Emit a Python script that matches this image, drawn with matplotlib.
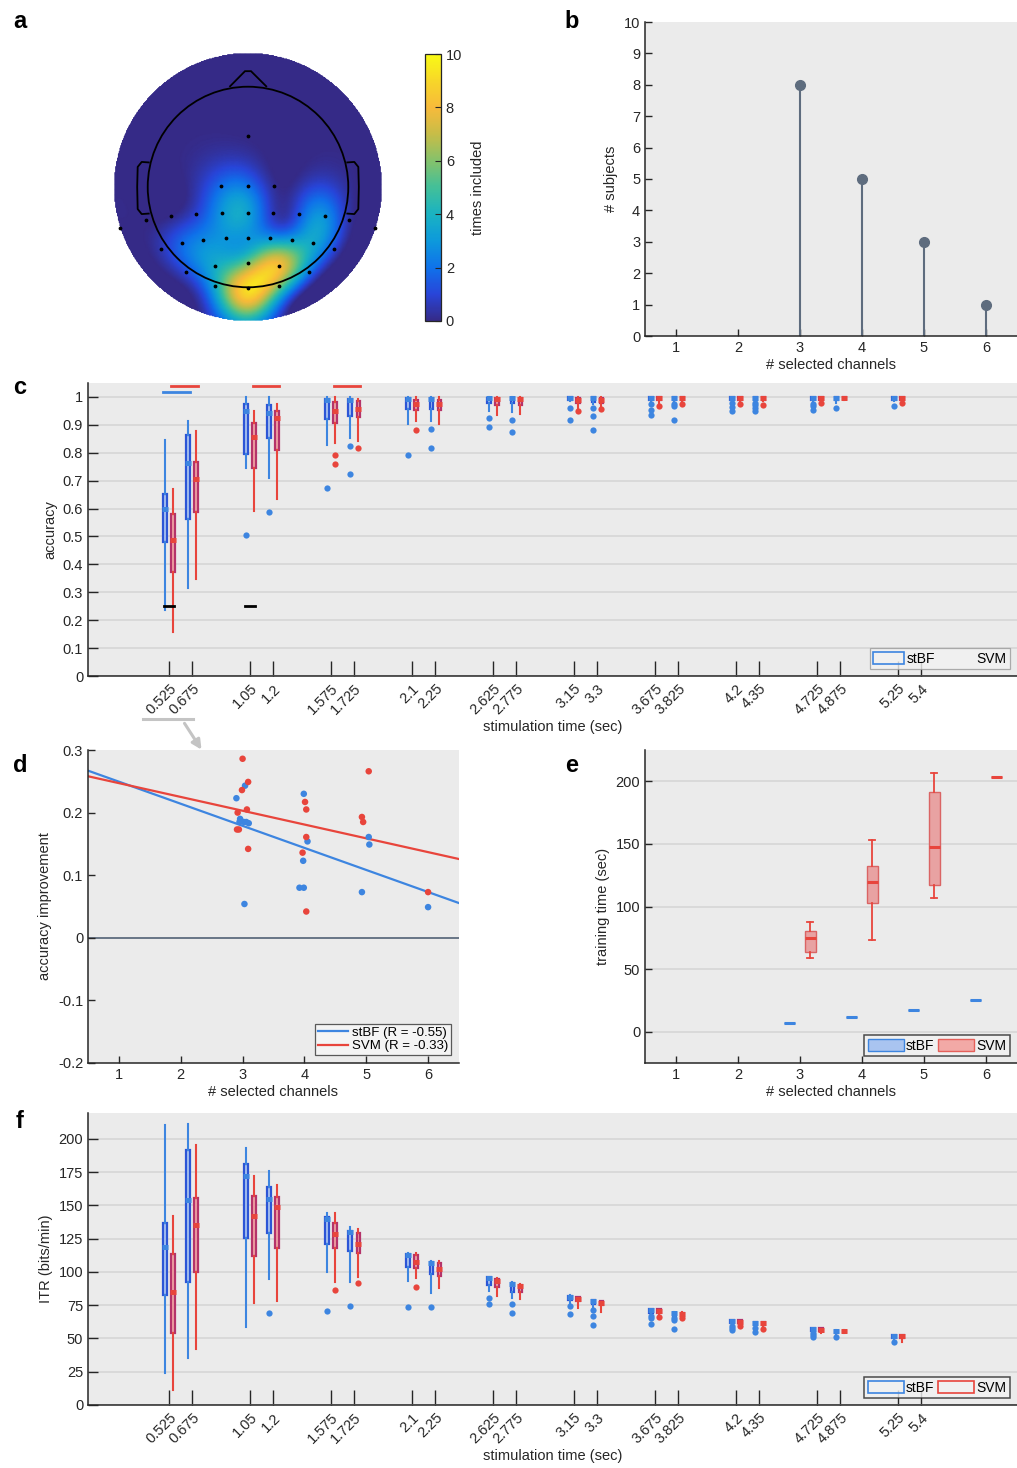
import numpy as np
import matplotlib
matplotlib.use("Agg")
import matplotlib.pyplot as plt
from matplotlib.colors import LinearSegmentedColormap
from matplotlib.patches import Patch, Circle, Polygon, FancyArrowPatch
from matplotlib.lines import Line2D

plt.rcParams['font.family'] = ['Liberation Sans', 'DejaVu Sans']
plt.rcParams['font.size'] = 10.5
plt.rcParams['axes.linewidth'] = 1.1
TXT = '#262626'

# ---------------- DATA ----------------
# panel a: electrode positions (head units) and "times included"
elec_x = [0.0, -0.27, 0.0, 0.264, -1.018, -0.769, -0.516, -0.26, 0.0, 0.254, 0.51, 0.763, 1.012,
          -1.274, 1.268, -0.659, -0.45, -0.224, 0.0, 0.22, 0.44, 0.65, -0.865, 0.856,
          -0.327, 0.0, 0.314, -0.619, 0.613, -0.327, 0.0, 0.314]
elec_y = [0.51, 0.005, 0.005, 0.005, -0.331, -0.288, -0.265, -0.255, -0.255, -0.255, -0.265, -0.288, -0.331,
          -0.41, -0.41, -0.56, -0.524, -0.507, -0.504, -0.507, -0.524, -0.557, -0.62, -0.62,
          -0.783, -0.76, -0.783, -0.85, -0.85, -0.986, -1.012, -0.986]
elec_v = [0, 2, 2.2, 0.2, 0, 0, 1, 3, 3.5, 0.6, 1.5, 3, 0.3,
          0, 0, 2, 2.5, 3, 3, 3, 3, 4, 0.5, 1,
          4, 5.5, 9, 1, 2, 3.5, 10, 5.5]

# panel b
b_channels = [1, 2, 3, 4, 5, 6]
b_subjects = [0, 0, 8, 5, 3, 1]

# panel c/f x ticks
time_labels = ["0.525", "0.675", "1.05", "1.2", "1.575", "1.725", "2.1", "2.25", "2.625", "2.775",
               "3.15", "3.3", "3.675", "3.825", "4.2", "4.35", "4.725", "4.875", "5.25", "5.4"]
box_times = [0.525, 0.675, 1.05, 1.2, 1.575, 1.725, 2.1, 2.25, 2.625, 2.775,
             3.15, 3.3, 3.675, 3.825, 4.2, 4.35, 4.725, 4.875, 5.25]

# panel c accuracy box stats: whisker hi, q3, median, q1, whisker lo, outliers
c_stbf_whi = [.846, .914, 1.0, 1.0, 1.0, 1.0, 1.0, 1.0, 1.0, 1.0, 1.0, 1.0, 1.0, 1.0, 1.0, 1.0, 1.0, 1.0, 1.0]
c_stbf_q3 = [.652, .865, .974, .972, .992, .994, .995, .995, .997, .997, 1.0, 1.0, 1.0, 1.0, 1.0, 1.0, 1.0, 1.0, 1.0]
c_stbf_med = [.599, .763, .949, .944, .99, .99, .993, .993, .995, .995, .997, .997, .997, .997, .998, .998, .998, .998, .998]
c_stbf_q1 = [.480, .561, .797, .852, .920, .933, .956, .957, .978, .978, .988, .982, .988, .99, .99, .99, .988, .99, .988]
c_stbf_wlo = [.237, .314, .747, .708, .828, .854, .903, .915, .951, .946, .985, .975, .985, .985, .988, .988, .985, .98, .985]
c_stbf_out = [[], [], [.506], [.587], [.675], [.823, .724], [.793], [.886, .817], [.924, .892], [.918, .875],
              [.961, .918], [.961, .932, .880], [.975, .955, .937], [.975, .968, .918], [.978, .964, .951],
              [.980, .970, .960, .951], [.976, .966, .954], [.961], [.966]]
c_svm_whi = [.670, .877, .951, .976, 1.0, .994, 1.0, 1.0, 1.0, 1.0, 1.0, 1.0, 1.0, 1.0, 1.0, 1.0, 1.0, 1.0, 1.0]
c_svm_q3 = [.582, .766, .906, .948, .981, .984, .99, .99, .996, .996, .995, .995, 1.0, 1.0, 1.0, 1.0, 1.0, 1.0, 1.0]
c_svm_med = [.486, .706, .856, .924, .949, .956, .975, .975, .993, .993, .99, .99, .995, .995, .995, .996, .996, .997, .995]
c_svm_q1 = [.372, .587, .744, .809, .906, .928, .955, .954, .970, .972, .98, .98, .99, .988, .988, .99, .99, .992, .988]
c_svm_wlo = [.159, .347, .590, .634, .834, .842, .915, .903, .934, .940, .958, .962, .975, .985, .985, .985, .985, .99, .985]
c_svm_out = [[], [], [], [], [.792, .761], [.817], [.880], [], [], [], [.949], [.956], [.967], [.975], [.975],
             [.970], [.978], [], [.978]]
c_sig_stbf = [(0.525, 0.675)]
c_sig_svm = [(0.525, 0.675), (1.05, 1.2), (1.575, 1.725)]
c_chance_t = [0.525, 1.05]
c_chance_v = [0.25, 0.25]

# panel d accuracy improvement
d_stbf_x = [2.9, 3.04, 2.96, 2.95, 3.02, 3.06, 3.1, 3.03, 3.99, 4.05, 3.98, 3.92, 3.99, 5.04, 5.05, 4.93, 6.0]
d_stbf_y = [0.223, 0.243, 0.19, 0.185, 0.185, 0.185, 0.183, 0.054, 0.23, 0.154, 0.123, 0.08, 0.08,
            0.161, 0.149, 0.073, 0.049]
d_svm_x = [3.0, 2.99, 3.09, 2.92, 3.07, 2.91, 2.94, 3.09, 4.01, 4.03, 4.03, 3.97, 4.03, 5.04, 4.93, 4.95, 6.0]
d_svm_y = [0.286, 0.236, 0.249, 0.2, 0.205, 0.173, 0.173, 0.142, 0.217, 0.205, 0.161, 0.136, 0.042,
           0.266, 0.193, 0.185, 0.073]
d_labels = ["stBF (R = -0.55)", "SVM (R = -0.33)"]

# panel e training time
e_channels = [3, 4, 5, 6]
e_stbf = [7.2, 11.5, 17.6, 25.3]
e_svm_whi = [87.5, 153.3, 206.4, 203.5]
e_svm_q3 = [80.8, 132.0, 191.7, 203.5]
e_svm_med = [75.0, 119.2, 147.7, 203.5]
e_svm_q1 = [63.8, 102.4, 116.8, 203.5]
e_svm_wlo = [59.0, 73.3, 106.7, 203.5]

# panel f ITR
f_stbf_whi = [210.5, 211, 193, 175.9, 144.1, 134.1, 114.5, 108.3, 96.5, 92.5, 82.5, 79.2, 72.3, 69.6, 64.0, 62.3, 57.7, 56.1, 52.7]
f_stbf_q3 = [136.6, 191.7, 181, 164.1, 141.6, 131.1, 113.5, 107.3, 96.0, 92.0, 82.2, 78.9, 72.0, 69.4, 63.9, 62.2, 57.6, 56.0, 52.6]
f_stbf_med = [119.0, 154.1, 172.2, 154.9, 139.6, 129.8, 112.8, 106.4, 95.3, 91.0, 81.4, 78.0, 71.5, 68.8, 63.4, 61.8, 57.2, 55.6, 52.2]
f_stbf_q1 = [82.7, 92.7, 125.8, 129.1, 120.8, 115.8, 103.5, 98.3, 90.2, 85.2, 78.9, 76.0, 69.4, 66.9, 61.4, 60.2, 55.6, 54.0, 50.1]
f_stbf_wlo = [23.8, 35.6, 58.9, 94.5, 100.2, 92.2, 93.2, 84.4, 86.0, 80.2, 77.0, 74.0, 68.0, 66.0, 60.5, 59.0, 54.8, 53.0, 49.5]
f_stbf_out = [[], [], [], [68.9], [70.7], [74.4], [73.9], [73.7], [80.5, 75.7], [75.9, 69.4], [74.4, 68.2],
              [71.4, 66.9, 60.4], [66.9, 65.1, 60.9], [65.4, 63.9, 57.4], [59.4, 58.2, 56.4], [57.6, 54.6],
              [53.9, 52.8, 50.9], [50.9], [47.6]]
f_svm_whi = [142.1, 195.5, 172.2, 165.4, 144.1, 132.1, 114.5, 108.5, 95.5, 91.0, 81.5, 78.5, 72.3, 69.6, 64.0, 62.3, 57.7, 56.1, 52.7]
f_svm_q3 = [113.5, 155.9, 157.4, 156.6, 137.1, 129.6, 112.5, 107.0, 94.7, 90.5, 81.0, 78.0, 72.0, 69.4, 63.9, 62.2, 57.6, 56.0, 52.6]
f_svm_med = [84.7, 135.3, 142.1, 149.1, 128.3, 121.1, 107.8, 102.0, 93.5, 89.5, 79.9, 76.9, 70.7, 68.5, 62.5, 61.5, 56.5, 55.5, 51.5]
f_svm_q1 = [53.9, 100.2, 112.3, 117.8, 117.8, 114.5, 103.3, 97.2, 89.0, 84.7, 78.0, 75.0, 69.4, 66.5, 61.4, 60.2, 55.6, 54.5, 50.0]
f_svm_wlo = [11.3, 41.8, 76.4, 78.4, 92.7, 96.0, 95.2, 88.2, 82.2, 79.5, 72.7, 70.2, 68.0, 66.0, 60.5, 59.0, 54.0, 54.0, 47.6]
f_svm_out = [[], [], [], [], [86.7], [91.5], [88.7], [], [], [], [], [], [65.9], [65.4], [59.4], [57.0], [], [], []]

# ---------------- STYLE ----------------
BG = '#EBEBEB'
GRID = '#D6D6D6'
BL_W = '#3D85E0'   # whisker / median / outliers blue
BL_E = '#2C55D6'   # box edge blue
BL_F = '#A9C4F0'
RD_W = '#E8453C'
RD_E = '#B5336A'
RD_F = '#F0A3A3'
STEM = '#5E6C7E'

W, H = 1017, 1468
fig = plt.figure(figsize=(W / 100, H / 100), dpi=100)


def add_ax(l, t, r, b):
    return fig.add_axes([l / W, 1 - b / H, (r - l) / W, (b - t) / H])


def style_ax(ax, grid=True):
    ax.set_facecolor(BG)
    for s in ['top', 'right']:
        ax.spines[s].set_visible(False)
    for s in ['left', 'bottom']:
        ax.spines[s].set_color(TXT)
    ax.tick_params(direction='in', colors=TXT, labelcolor=TXT, labelsize=10.5, width=1.0, length=5)
    if grid:
        ax.yaxis.grid(True, color=GRID, lw=1.2)
        ax.set_axisbelow(True)


parula = LinearSegmentedColormap.from_list('parula', [
    (0.000, (0.208, 0.166, 0.529)),
    (0.100, (0.160, 0.270, 0.850)),
    (0.200, (0.060, 0.450, 0.920)),
    (0.300, (0.050, 0.600, 0.860)),
    (0.400, (0.100, 0.700, 0.760)),
    (0.500, (0.260, 0.750, 0.600)),
    (0.600, (0.520, 0.760, 0.420)),
    (0.700, (0.780, 0.740, 0.280)),
    (0.800, (0.970, 0.730, 0.230)),
    (0.900, (0.970, 0.840, 0.160)),
    (1.000, (0.976, 0.984, 0.081)),
])

# ---------------- PANEL a ----------------
ax_a = add_ax(107, 46, 389, 328)
R_OUT = 1.334
SIG = 0.24
ex = np.array(elec_x); ey = np.array(elec_y); ev = np.array(elec_v, float)
dmat2 = (ex[:, None] - ex[None, :]) ** 2 + (ey[:, None] - ey[None, :]) ** 2
K = np.exp(-dmat2 / (2 * SIG ** 2))
wts = np.linalg.solve(K + 0.06 * np.eye(len(ex)), ev)
gx = np.linspace(-R_OUT, R_OUT, 320)
GX, GY = np.meshgrid(gx, gx)
rr2 = (GX.ravel()[:, None] - ex[None, :]) ** 2 + (GY.ravel()[:, None] - ey[None, :]) ** 2
Z = (np.exp(-rr2 / (2 * SIG ** 2)) @ wts).reshape(GX.shape)
Z = np.clip(Z, 0, 10)
Z = np.ma.masked_where(np.hypot(GX, GY) > R_OUT, Z)
im = ax_a.pcolormesh(GX, GY, Z, cmap=parula, vmin=0, vmax=10, shading='gouraud', rasterized=True)
ax_a.add_patch(Circle((0, 0), 1.0, fill=False, ec='black', lw=1.3))
ax_a.add_patch(Polygon([[-0.185, 0.998], [-0.03, 1.155], [0.03, 1.155], [0.188, 0.998]],
                       closed=False, fill=False, ec='black', lw=1.3))
ear_x = np.array([-0.99, -1.06, -1.10, -1.105, -1.10, -1.06, -0.99])
ear_y = np.array([0.245, 0.25, 0.2, 0.0, -0.22, -0.27, -0.265])
ax_a.plot(ear_x, ear_y, color='black', lw=1.3)
ax_a.plot(-ear_x, ear_y, color='black', lw=1.3)
ax_a.scatter(ex, ey, s=3, c='black', zorder=5)
ax_a.set_xlim(-1.406, 1.406); ax_a.set_ylim(-1.406, 1.406)
ax_a.set_aspect('equal'); ax_a.axis('off')

cax = add_ax(425, 54, 441, 321)
cb = fig.colorbar(im, cax=cax, ticks=[0, 2, 4, 6, 8, 10])
cb.outline.set_edgecolor(TXT); cb.outline.set_linewidth(0.9)
cax.tick_params(direction='in', length=4, labelsize=10.5, colors=TXT)
cb.set_label('times included', fontsize=10.5, color=TXT, labelpad=6)

# ---------------- PANEL b ----------------
ax_b = add_ax(645, 22, 1017, 336)
style_ax(ax_b, grid=False)
idx = [i for i, v in enumerate(b_subjects) if v > 0]
ml, sl, bl = ax_b.stem([b_channels[i] for i in idx], [b_subjects[i] for i in idx], basefmt=' ')
ml.set_color(STEM); ml.set_markersize(7)
sl.set_color(STEM); sl.set_linewidth(1.5)
ax_b.set_xlim(0.5, 6.5); ax_b.set_ylim(0, 10)
ax_b.set_xticks(b_channels); ax_b.set_yticks(range(0, 11))
ax_b.set_xlabel('# selected channels', color=TXT, labelpad=2)
ax_b.set_ylabel('# subjects', color=TXT, labelpad=4)


# ---------------- helpers for compact boxplots ----------------
def compact_boxes(ax, pos, whi, q3, med, q1, wlo, outs, wc, ec, fc, width):
    stats = []
    for i in range(len(pos)):
        stats.append(dict(med=med[i], q1=q1[i], q3=q3[i], whislo=wlo[i], whishi=whi[i], fliers=outs[i]))
    ax.bxp(stats, positions=pos, widths=width, patch_artist=True, showcaps=False,
           boxprops=dict(facecolor=fc, edgecolor=ec, lw=1.6),
           whiskerprops=dict(color=wc, lw=1.5),
           medianprops=dict(color='none', lw=0),
           flierprops=dict(marker='o', markerfacecolor=wc, markeredgecolor='none', markersize=4.5),
           manage_ticks=False, zorder=3)
    p = np.array(pos)
    ax.hlines(med, p - 0.02, p + 0.02, colors=wc, lw=3.6, zorder=6)


OFF = 0.026
BW = 0.022
tick_vals = [float(s) for s in time_labels]

# ---------------- PANEL c ----------------
ax_c = add_ax(88, 383, 1017, 676)
style_ax(ax_c)
pos_b = [t - OFF for t in box_times]
pos_r = [t + OFF for t in box_times]
compact_boxes(ax_c, pos_b, c_stbf_whi, c_stbf_q3, c_stbf_med, c_stbf_q1, c_stbf_wlo, c_stbf_out,
              BL_W, BL_E, BL_F, BW)
compact_boxes(ax_c, pos_r, c_svm_whi, c_svm_q3, c_svm_med, c_svm_q1, c_svm_wlo, c_svm_out,
              RD_W, RD_E, RD_F, BW)
for a, b in c_sig_stbf:
    ax_c.plot([a - OFF - 0.01, b - OFF + 0.01], [1.018, 1.018], color=BL_W, lw=2, clip_on=False)
for a, b in c_sig_svm:
    ax_c.plot([a + OFF - 0.01, b + OFF + 0.01], [1.039, 1.039], color=RD_W, lw=2, clip_on=False)
for t, v in zip(c_chance_t, c_chance_v):
    ax_c.plot([t - 0.03, t + 0.03], [v, v], color='black', lw=2, zorder=4)
ax_c.set_xlim(0, 6.02); ax_c.set_ylim(0, 1.05)
ax_c.set_yticks(np.round(np.arange(0, 1.01, 0.1), 1))
ax_c.set_yticklabels(['0'] + [f'{v:.1f}' for v in np.arange(0.1, 0.95, 0.1)] + ['1'])
ax_c.set_xticks(tick_vals)
ax_c.set_xticklabels(time_labels, rotation=45, ha='right', va='top', rotation_mode='anchor')
ax_c.tick_params(axis='x', length=11, pad=4)
ax_c.tick_params(axis='y', length=7)
ax_c.set_xlabel('stimulation time (sec)', color=TXT, labelpad=2)
ax_c.set_ylabel('accuracy', color=TXT, labelpad=4)
leg = ax_c.legend([Patch(facecolor='none', edgecolor=BL_W, lw=1.2), Patch(facecolor='none', edgecolor='none')],
                  ['stBF', 'SVM'], loc='lower right', ncol=2, fontsize=10, frameon=True, fancybox=False,
                  handlelength=2.2, handleheight=0.9, handletextpad=0.2, columnspacing=0.6,
                  borderpad=0.25, borderaxespad=0.5)
leg.get_frame().set_edgecolor('#9A9A9A'); leg.get_frame().set_facecolor('#F2F2F2'); leg.get_frame().set_linewidth(0.9)

# annotation arrow from c to d
fig.add_artist(Line2D([143 / W, 193 / W], [1 - 719 / H, 1 - 719 / H], color='#C4C4C4', lw=2.2))
fig.add_artist(FancyArrowPatch((183 / W, 1 - 721 / H), (203 / W, 1 - 752 / H),
                               transform=fig.transFigure, arrowstyle='-|>',
                               mutation_scale=14, color='#C4C4C4', lw=2.2))

# ---------------- PANEL d ----------------
ax_d = add_ax(88, 750, 459, 1063)
style_ax(ax_d, grid=False)
ax_d.set_xlim(0.5, 6.5); ax_d.set_ylim(-0.2, 0.3)
ax_d.axhline(0, color=STEM, lw=1.3, zorder=1)
ax_d.scatter(d_stbf_x, d_stbf_y, s=22, color=BL_W, edgecolors='none', zorder=3)
ax_d.scatter(d_svm_x, d_svm_y, s=22, color=RD_W, edgecolors='none', zorder=3)
xl = np.array(ax_d.get_xlim())
pb = np.polyfit(d_stbf_x, d_stbf_y, 1)
pr = np.polyfit(d_svm_x, d_svm_y, 1)
lb, = ax_d.plot(xl, np.polyval(pb, xl), color=BL_W, lw=1.6, zorder=2)
lr, = ax_d.plot(xl, np.polyval(pr, xl), color=RD_W, lw=1.6, zorder=2)
ax_d.set_xticks(range(1, 7))
ax_d.set_yticks([-0.2, -0.1, 0, 0.1, 0.2, 0.3])
ax_d.set_yticklabels(['-0.2', '-0.1', '0', '0.1', '0.2', '0.3'])
ax_d.set_xlabel('# selected channels', color=TXT, labelpad=2)
ax_d.set_ylabel('accuracy improvement', color=TXT, labelpad=4)
leg = ax_d.legend([lb, lr], d_labels, loc='lower right', fontsize=9.5, frameon=True, fancybox=False,
                  handlelength=2.3, handletextpad=0.3, borderpad=0.2, labelspacing=0.1, borderaxespad=0.6)
leg.get_frame().set_edgecolor('#333333'); leg.get_frame().set_facecolor('#F7F7F7'); leg.get_frame().set_linewidth(0.9)

# ---------------- PANEL e ----------------
ax_e = add_ax(645, 750, 1017, 1063)
style_ax(ax_e)
EO = 0.165
pos_eb = [c - EO for c in e_channels]
pos_er = [c + EO for c in e_channels]
st_b = [dict(med=v, q1=v, q3=v, whislo=v, whishi=v, fliers=[]) for v in e_stbf]
ax_e.bxp(st_b, positions=pos_eb, widths=0.18, patch_artist=True, showcaps=False,
         boxprops=dict(facecolor=BL_F, edgecolor=BL_W, lw=1), whiskerprops=dict(color=BL_W),
         medianprops=dict(color=BL_W, lw=2.2, solid_capstyle='butt'), manage_ticks=False, zorder=3)
st_r = [dict(med=e_svm_med[i], q1=e_svm_q1[i], q3=e_svm_q3[i], whislo=e_svm_wlo[i], whishi=e_svm_whi[i],
             fliers=[]) for i in range(len(e_channels))]
ax_e.bxp(st_r, positions=pos_er, widths=0.18, patch_artist=True, capwidths=0.09,
         boxprops=dict(facecolor='#E8A2A2', edgecolor='#DA6464', lw=1),
         whiskerprops=dict(color=RD_W, lw=1.3), capprops=dict(color=RD_W, lw=1.3),
         medianprops=dict(color=RD_W, lw=2.2, solid_capstyle='butt'), manage_ticks=False, zorder=3)
ax_e.set_xlim(0.5, 6.5); ax_e.set_ylim(-25, 225)
ax_e.set_xticks(range(1, 7)); ax_e.set_yticks([0, 50, 100, 150, 200])
ax_e.set_xlabel('# selected channels', color=TXT, labelpad=2)
ax_e.set_ylabel('training time (sec)', color=TXT, labelpad=4)
leg = ax_e.legend([Patch(facecolor=BL_F, edgecolor=BL_W, lw=1), Patch(facecolor='#F2A9A6', edgecolor='#E5605A', lw=1)],
                  ['stBF', 'SVM'], loc='lower right', ncol=2, fontsize=10, frameon=True, fancybox=False,
                  handlelength=2.6, handleheight=0.9, handletextpad=0.15, columnspacing=0.3,
                  borderpad=0.25, borderaxespad=0.5)
leg.get_frame().set_edgecolor('#222222'); leg.get_frame().set_facecolor('#F2F2F2'); leg.get_frame().set_linewidth(1.1)

# ---------------- PANEL f ----------------
ax_f = add_ax(88, 1113, 1017, 1405)
style_ax(ax_f)
compact_boxes(ax_f, pos_b, f_stbf_whi, f_stbf_q3, f_stbf_med, f_stbf_q1, f_stbf_wlo, f_stbf_out,
              BL_W, BL_E, BL_F, BW)
compact_boxes(ax_f, pos_r, f_svm_whi, f_svm_q3, f_svm_med, f_svm_q1, f_svm_wlo, f_svm_out,
              RD_W, RD_E, RD_F, BW)
ax_f.set_xlim(0, 6.02); ax_f.set_ylim(0, 219.5)
ax_f.set_yticks(range(0, 201, 25))
ax_f.set_xticks(tick_vals)
ax_f.set_xticklabels(time_labels, rotation=45, ha='right', va='top', rotation_mode='anchor')
ax_f.tick_params(axis='x', length=11, pad=4)
ax_f.tick_params(axis='y', length=7)
ax_f.set_xlabel('stimulation time (sec)', color=TXT, labelpad=2)
ax_f.set_ylabel('ITR (bits/min)', color=TXT, labelpad=4)
leg = ax_f.legend([Patch(facecolor='none', edgecolor=BL_W, lw=1.2), Patch(facecolor='none', edgecolor=RD_W, lw=1.2)],
                  ['stBF', 'SVM'], loc='lower right', ncol=2, fontsize=10, frameon=True, fancybox=False,
                  handlelength=2.6, handleheight=0.9, handletextpad=0.15, columnspacing=0.3,
                  borderpad=0.25, borderaxespad=0.5)
leg.get_frame().set_edgecolor('#222222'); leg.get_frame().set_facecolor('#F2F2F2'); leg.get_frame().set_linewidth(1.1)

# ---------------- panel letters ----------------
for lab, x, y in [('a', 20, 22), ('b', 572, 22), ('c', 20, 387), ('d', 20, 766), ('e', 572, 766), ('f', 20, 1121)]:
    fig.text(x / W, 1 - y / H, lab, fontsize=17, fontweight='bold', ha='center', va='center', color='black')

fig.savefig('out.png', dpi=100, facecolor='white')
